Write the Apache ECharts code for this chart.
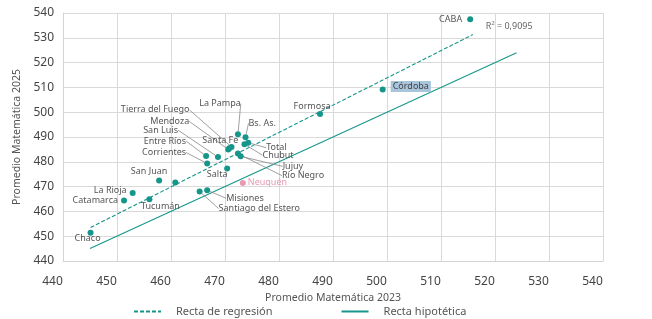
<!DOCTYPE html>
<html lang="es">
<head>
<meta charset="UTF-8" />
<title>Promedio Matemática 2023 vs 2025</title>
<script src="https://cdn.jsdelivr.net/npm/echarts@6/dist/echarts.min.js"></script>
</head>
<body style="margin:0">
<div id="container" style="width:652px;height:319px;"></div>
<script>
// datos
const names = ['CABA', 'Córdoba', 'Formosa', 'La Pampa', 'Bs. As.', 'Tierra del Fuego', 'Mendoza', 'Santa Fe',
  'San Luis', 'Entre Ríos', 'Corrientes', 'Total', 'Chubut', 'Jujuy', 'Río Negro', 'Salta', 'Neuquén',
  'San Juan', 'Santa Cruz', 'La Rioja', 'Catamarca', 'Tucumán', 'Misiones', 'Santiago del Estero', 'Chaco'];
const x2023 = [515.4, 499.2, 487.6, 472.4, 473.8, 471.2, 470.6, 470.8, 468.7, 466.5, 466.7, 474.3, 473.6,
  472.9, 472.4, 470.4, 473.3, 457.8, 460.8, 452.9, 451.3, 456.0, 466.7, 465.3, 445.1];
const y2025 = [537.5, 509.2, 499.3, 491.1, 489.9, 486.0, 485.0, 485.5, 481.9, 482.3, 479.3, 487.7, 487.1,
  482.2, 483.3, 477.3, 471.5, 472.5, 471.7, 467.4, 464.4, 464.9, 468.5, 468.0, 451.4];

// rectas (extremos)
const regresion = [[445.1, 453.5], [515.9, 531.3]];
const hipotetica = [[445, 445], [524, 524]];
const r2 = '0,9095';

const ticks = [440, 450, 460, 470, 480, 490, 500, 510, 520, 530, 540];

// ubicación de etiquetas: [posición, dx, dy, con línea guía]
const labelPos = {
  'CABA': ['left', 0, 0, false],
  'Córdoba': ['right', 0, -3, false],
  'Formosa': ['top', -8, 5, false],
  'La Pampa': ['top', -18, -18, true],
  'Bs. As.': ['right', -5, -14, true],
  'Tierra del Fuego': ['left', -34, -37, true],
  'Mendoza': ['left', -31, -28, true],
  'Santa Fe': ['top', -9, 5, false],
  'San Luis': ['left', -32, -27, true],
  'Entre Ríos': ['left', -12, -15, true],
  'Corrientes': ['left', -13, -11, true],
  'Total': ['right', 10, 5, true],
  'Chubut': ['right', 10, 11, true],
  'Jujuy': ['right', 34, 10, true],
  'Río Negro': ['right', 36, 22, true],
  'Salta': ['bottom', -10, -7, false],
  'Neuquén': ['right', -3, 0, false],
  'San Juan': ['top', -10, 4, false],
  'La Rioja': ['left', 2, -3, false],
  'Catamarca': ['left', 2, 0, false],
  'Tucumán': ['bottom', 11, -5, false],
  'Misiones': ['right', 11, 8, true],
  'Santiago del Estero': ['right', 11, 17, true],
  'Chaco': ['bottom', -3, -7, false]
};

const teal = '#16968a';
const pink = '#e79ab2';

function buildData(guided) {
  const out = [];
  names.forEach((n, i) => {
    const lp = labelPos[n];
    const hasGuide = lp ? lp[3] : false;
    if (hasGuide !== guided) return;
    const item = { name: n, value: [x2023[i], y2025[i]] };
    if (lp) {
      item.label = { show: true, position: lp[0] };
    } else {
      item.label = { show: false };
    }
    if (n === 'Neuquén') {
      item.itemStyle = { color: pink };
      item.label.color = pink;
    }
    if (n === 'Córdoba') {
      item.label.backgroundColor = '#a9c5dc';
      item.label.padding = [1, 2];
      item.label.color = '#444';
    }
    out.push(item);
  });
  return out;
}
const guidedData = buildData(true);
const plainData = buildData(false);

function layoutFor(list) {
  return function (p) {
    const lp = labelPos[list[p.dataIndex].name];
    if (!lp) return {};
    return { dx: lp[1], dy: lp[2] };
  };
}

const font = '"Noto Sans", sans-serif';
const chart = echarts.init(document.getElementById('container'));
const option = {
  animation: false,
  textStyle: { fontFamily: font },
  grid: { left: 63, right: 49, top: 13, bottom: 58 },
  legend: {
    left: 128,
    top: 301,
    itemWidth: 27,
    itemHeight: 8,
    itemGap: 68,
    itemStyle: { opacity: 0 },
    textStyle: { fontSize: 11, color: '#555', padding: [0, 0, 0, 10] },
    data: ['Recta de regresión', 'Recta hipotética']
  },
  xAxis: {
    type: 'value',
    min: 440,
    max: 540,
    interval: 10,
    name: 'Promedio Matemática 2023',
    nameLocation: 'middle',
    nameGap: 27,
    nameTextStyle: { fontSize: 10.5, color: '#555' },
    axisLine: { show: true, lineStyle: { color: '#d4d4d4' } },
    axisTick: { show: false },
    axisLabel: {
      color: '#444', fontSize: 12, margin: 15, padding: [0, 21, 0, 0],
      formatter: v => ticks.includes(v) ? String(v) : ''
    },
    splitLine: { show: true, lineStyle: { color: '#d9d9d9' } }
  },
  yAxis: {
    type: 'value',
    min: 440,
    max: 540,
    interval: 10,
    name: 'Promedio Matemática 2025',
    nameLocation: 'middle',
    nameGap: 37,
    nameTextStyle: { fontSize: 10.5, color: '#555' },
    axisLine: { show: true, lineStyle: { color: '#d4d4d4' } },
    axisTick: { show: false },
    axisLabel: { color: '#444', fontSize: 12, margin: 9 },
    splitLine: { show: true, lineStyle: { color: '#d9d9d9' } }
  },
  series: [
    {
      name: 'Recta de regresión',
      type: 'line',
      data: regresion,
      symbol: 'none',
      color: teal,
      lineStyle: { color: teal, width: 1.1, type: [4, 2] },
      endLabel: {
        show: true,
        formatter: 'R² = ' + r2,
        fontSize: 9,
        color: '#666',
        offset: [5, -8]
      },
      z: 2
    },
    {
      name: 'Recta hipotética',
      type: 'line',
      data: hipotetica,
      symbol: 'none',
      color: teal,
      lineStyle: { color: teal, width: 1.1 },
      z: 2
    },
    {
      name: 'Provincias guía',
      type: 'scatter',
      data: guidedData,
      symbolSize: 6,
      itemStyle: { color: teal, opacity: 1 },
      label: { show: true, formatter: '{b}', fontSize: 9, color: '#555', distance: 5 },
      labelLine: { show: true, length2: 0, lineStyle: { color: '#888', width: 0.8 } },
      labelLayout: layoutFor(guidedData),
      z: 3
    },
    {
      name: 'Provincias',
      type: 'scatter',
      data: plainData,
      symbolSize: 6,
      itemStyle: { color: teal, opacity: 1 },
      label: { show: true, formatter: '{b}', fontSize: 9, color: '#555', distance: 5 },
      labelLayout: layoutFor(plainData),
      z: 3
    }
  ]
};
chart.setOption(option);
</script>
</body>
</html>
